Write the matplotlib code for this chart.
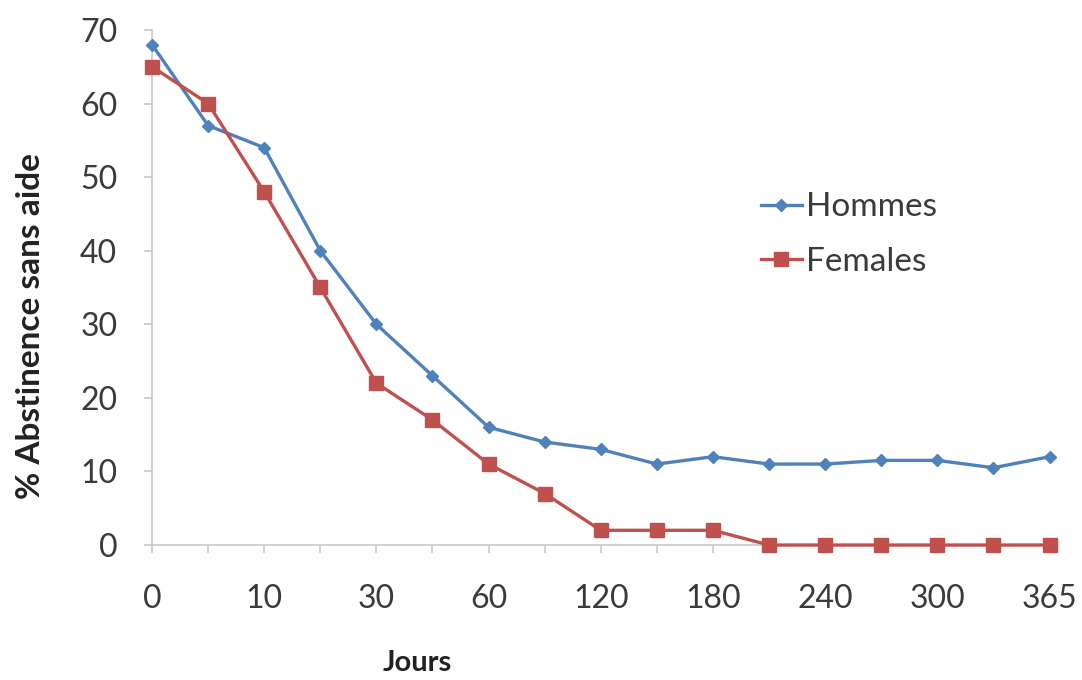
import matplotlib
matplotlib.use("Agg")
from matplotlib import pyplot as plt

# positions along the category axis, labels on every other one
jours_labels = ["0", "10", "30", "60", "120", "180", "240", "300", "365"]
hommes = [68, 57, 54, 40, 30, 23, 16, 14, 13, 11, 12, 11, 11, 11.5, 11.5, 10.5, 12]
females = [65, 60, 48, 35, 22, 17, 11, 7, 2, 2, 2, 0, 0, 0, 0, 0, 0]

plt.rcParams['font.family'] = ['Lato', 'DejaVu Sans']

fig = plt.figure(figsize=(10.82, 6.8), dpi=100)
ax = fig.add_axes([0.1405, 0.1985, 0.8295, 0.7575])

x = list(range(len(hommes)))
ax.plot(x, hommes, color="#4F81BD", marker="D", markersize=6, linewidth=2.4,
        label="Hommes", clip_on=False, zorder=3)
ax.plot(x, females, color="#C0504D", marker="s", markersize=10, linewidth=2.4,
        label="Females", clip_on=False, zorder=3)

ax.set_xlim(0, len(hommes) - 1)
ax.set_ylim(0, 70)
ax.set_yticks(range(0, 71, 10))
ax.set_xticks(x)
ax.set_xticklabels([jours_labels[i // 2] if i % 2 == 0 else "" for i in x])

for s in ["top", "right"]:
    ax.spines[s].set_visible(False)
for s in ["left", "bottom"]:
    ax.spines[s].set_color("#C8C8C8")
    ax.spines[s].set_linewidth(1.2)
ax.tick_params(axis="both", colors="#C8C8C8", length=6, width=1.2,
               labelsize=23, labelcolor="#3a3a3a")
ax.tick_params(axis="x", pad=22)
ax.tick_params(axis="y", pad=19)

ax.set_ylabel("% Abstinence sans aide", fontsize=24, fontweight="bold", color="#222222")
ax.yaxis.set_label_coords(-0.119, 0.425)
ax.set_xlabel("Jours", fontsize=21, fontweight="bold", color="#222222")
ax.xaxis.set_label_coords(0.296, -0.203)

ax.legend(loc="upper left", bbox_to_anchor=(0.703, 0.717), bbox_transform=fig.transFigure,
          frameon=False, fontsize=24, handlelength=1.25, handletextpad=0.1,
          labelspacing=0.73, borderpad=0, borderaxespad=0, labelcolor="#3a3a3a")

fig.savefig("out.png", dpi=100, facecolor="white")
